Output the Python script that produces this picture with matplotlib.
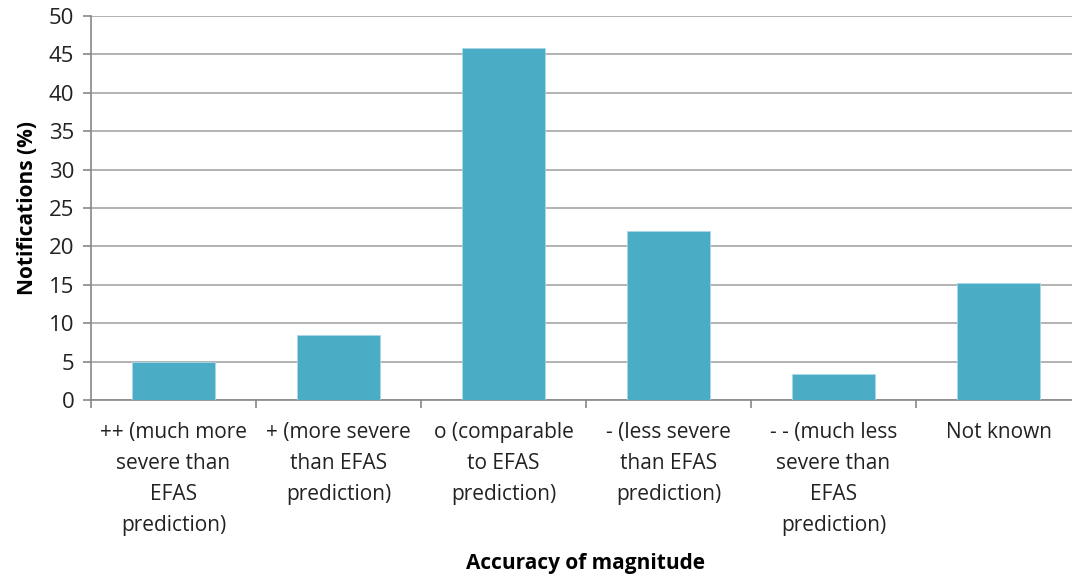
import matplotlib.pyplot as plt
import numpy as np

plt.rcParams['font.family'] = ['Open Sans', 'DejaVu Sans']

# data
categories = ['++ (much more\nsevere than\nEFAS\nprediction)',
              '+ (more severe\nthan EFAS\nprediction)',
              'o (comparable\nto EFAS\nprediction)',
              '- (less severe\nthan EFAS\nprediction)',
              '- - (much less\nsevere than\nEFAS\nprediction)',
              'Not known']
values = [5.0, 8.5, 45.8, 22.0, 3.35, 15.2]

fig = plt.figure(figsize=(10.72, 5.78), dpi=100)
ax = fig.add_axes([91/1072, 1 - 400/578, 990/1072, 384/578])

x = np.arange(len(categories))
ax.bar(x, values, width=0.5, color='#4BACC6', edgecolor='#A9D8E6', linewidth=0.6, zorder=3)

ax.set_xlim(-0.5, len(categories) - 0.5)
ax.set_ylim(0, 50)
ax.set_yticks(np.arange(0, 51, 5))
ax.yaxis.grid(True, color='#A6A6A6', linewidth=1.2, zorder=0)

ax.set_xticks(np.arange(-0.5, len(categories) - 0.5, 1))
ax.set_xticklabels([])
ax.set_xticks(x, minor=True)
ax.set_xticklabels(categories, minor=True, fontsize=15, color='#222222', linespacing=1.62, va='top')
ax.tick_params(axis='x', which='major', length=6, color='#888888', width=1.2)
ax.tick_params(axis='x', which='minor', length=0, pad=16)
ax.tick_params(axis='y', length=6, color='#888888', width=1.2, labelsize=16, labelcolor='#222222', pad=6)

for s in ['top', 'right']:
    ax.spines[s].set_visible(False)
ax.spines['left'].set_color('#888888')
ax.spines['bottom'].set_color('#888888')
ax.spines['left'].set_linewidth(1.2)
ax.spines['bottom'].set_linewidth(1.2)

ax.set_ylabel('Notifications (%)', fontsize=15, fontweight='bold', labelpad=8)
fig.text(585/1072, 1 - 563/578, 'Accuracy of magnitude', fontsize=15, fontweight='bold',
         ha='center', va='center')

fig.savefig('out.png', dpi=100)
